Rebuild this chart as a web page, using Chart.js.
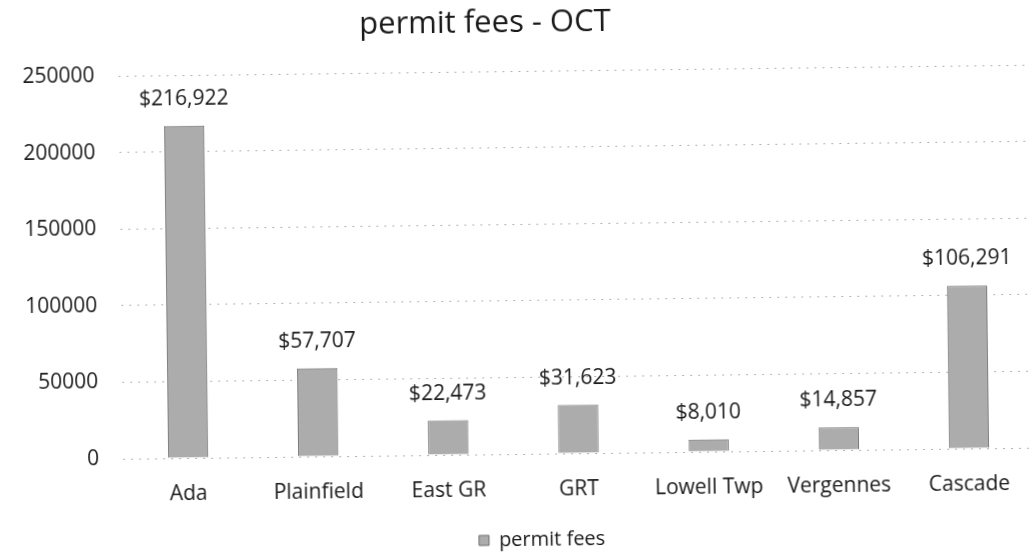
<!DOCTYPE html>
<html>
<head>
<meta charset="utf-8">
<script src="https://cdn.jsdelivr.net/npm/chart.js@4.4.0/dist/chart.umd.min.js"></script>
<style>
  html, body { margin: 0; padding: 0; background: #fff; }
  #wrap { width: 1036px; height: 560px; transform: rotate(-0.7deg); transform-origin: 518px 280px; }
</style>
</head>
<body>
<div id="wrap"><canvas id="c" width="1036" height="560"></canvas></div>
<script>
const categories = ['Ada', 'Plainfield', 'East GR', 'GRT', 'Lowell Twp', 'Vergennes', 'Cascade'];
const permitFees = [216922, 57707, 22473, 31623, 8010, 14857, 106291];
const seriesName = 'permit fees';
const chartTitle = 'permit fees - OCT';
const yTickLabels = ['0', '50000', '100000', '150000', '200000', '250000'];
const yMax = 250000;
const yStep = 50000;

const FONT = "'Open Sans', 'Liberation Sans', sans-serif";

const dataLabels = {
  id: 'dataLabels',
  afterDatasetsDraw(chart) {
    const ctx = chart.ctx;
    const meta = chart.getDatasetMeta(0);
    ctx.save();
    ctx.font = '21px ' + FONT;
    ctx.fillStyle = '#1a1a1a';
    ctx.textAlign = 'center';
    ctx.textBaseline = 'middle';
    meta.data.forEach((bar, i) => {
      const v = chart.data.datasets[0].data[i];
      ctx.fillText('$' + v.toLocaleString('en-US'), bar.x, bar.y - 27);
    });
    ctx.restore();
  }
};

const shiftBoxes = {
  id: 'shiftBoxes',
  afterLayout(chart) {
    const t = chart.titleBlock;
    if (t) { t.left -= 28; t.right -= 28; }
    const l = chart.legend;
    if (l) { l.left += 23; l.right += 23; }
  }
};

new Chart(document.getElementById('c'), {
  type: 'bar',
  data: {
    labels: categories,
    datasets: [{
      label: seriesName,
      data: permitFees,
      backgroundColor: '#acacac',
      borderColor: '#6e6e6e',
      borderWidth: 1,
      barPercentage: 0.31,
      categoryPercentage: 1.0
    }]
  },
  options: {
    responsive: false,
    animation: false,
    devicePixelRatio: 1,
    layout: { padding: { left: 0, right: 4, top: 0, bottom: 0 } },
    plugins: {
      title: {
        display: true,
        text: chartTitle,
        color: '#1a1a1a',
        font: { family: FONT, size: 31, weight: 'normal' },
        padding: { top: 5, bottom: 29 }
      },
      legend: {
        display: true,
        position: 'bottom',
        labels: {
          color: '#1a1a1a',
          font: { family: FONT, size: 20 },
          boxWidth: 10,
          boxHeight: 10,
          padding: 5
        }
      },
      tooltip: { enabled: false }
    },
    scales: {
      x: {
        grid: { display: false, drawTicks: false },
        border: { display: false },
        ticks: { color: '#1a1a1a', font: { family: FONT, size: 21 }, padding: 23, maxRotation: 0 },
        afterFit(s) { s.height = 71; }
      },
      y: {
        min: 0,
        max: yMax,
        grid: { color: 'rgba(0,0,0,0.3)', drawTicks: false, lineWidth: 1 },
        border: { display: false, dash: [2, 6] },
        ticks: {
          stepSize: yStep,
          color: '#1a1a1a',
          font: { family: FONT, size: 21 },
          padding: 24,
          callback: (v, i) => yTickLabels[i]
        },
        afterFit(s) { s.width = 121; }
      }
    }
  },
  plugins: [dataLabels, shiftBoxes]
});
</script>
</body>
</html>
